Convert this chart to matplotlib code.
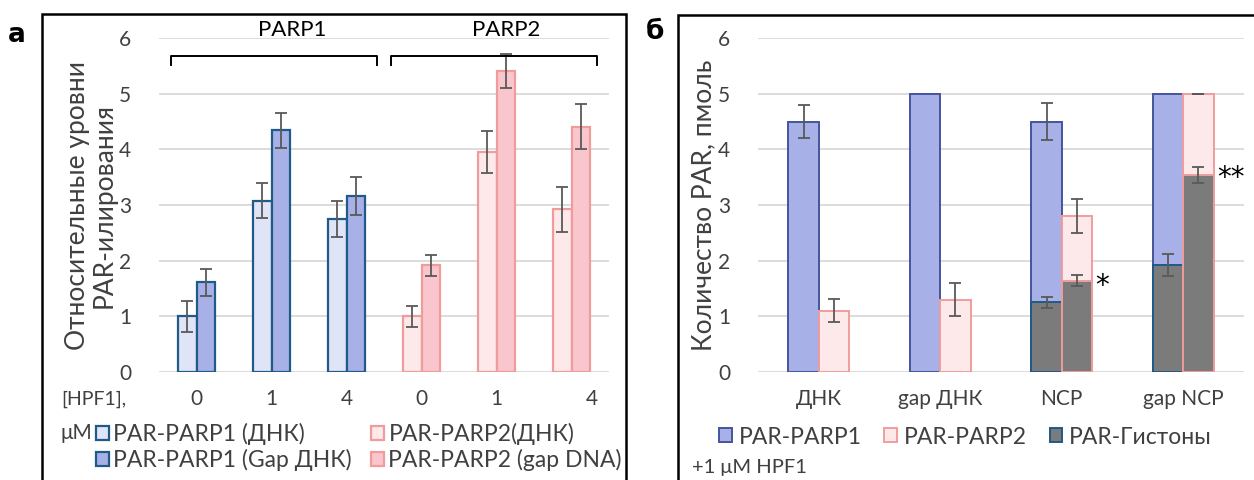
import matplotlib
matplotlib.use("Agg")
import matplotlib.pyplot as plt
from matplotlib.patches import Rectangle
from matplotlib.transforms import ScaledTranslation
import numpy as np

plt.rcParams['font.family'] = ['Lato', 'DejaVu Sans']

# ---- panel a: relative PAR-ylation levels ----
hpf1_labels = ["0", "1", "4", "0", "1", "4"]
parp1_dna = [1.00, 3.08, 2.75]
parp1_dna_err = [0.28, 0.31, 0.33]
parp1_gap = [1.61, 4.34, 3.16]
parp1_gap_err = [0.24, 0.32, 0.34]
parp2_dna = [1.00, 3.95, 2.92]
parp2_dna_err = [0.19, 0.38, 0.40]
parp2_gap = [1.92, 5.41, 4.41]
parp2_gap_err = [0.19, 0.31, 0.41]

# ---- panel b: PAR amount, pmol (+1 uM HPF1) ----
substrates = ["ДНК", "gap ДНК", "NCP", "gap NCP"]
parp1_total = [4.50, 5.00, 4.50, 5.00]
parp1_total_err = [0.29, 0.0, 0.33, 0.0]
parp2_total = [1.10, 1.30, 2.80, 5.00]
parp2_total_err = [0.21, 0.29, 0.30, 0.0]
hist_p1 = [0.0, 0.0, 1.25, 1.92]
hist_p1_err = [0.0, 0.0, 0.10, 0.20]
hist_p2 = [0.0, 0.0, 1.64, 3.54]
hist_p2_err = [0.0, 0.0, 0.10, 0.14]

C_EDGE1 = "#1f5a88"
C_P1L = "#dfe5f6"
C_P1D = "#a7b1e8"
C_EDGE1B = "#45559b"
C_EDGE2 = "#f09c9c"
C_P2L = "#fde8ea"
C_P2D = "#f8c6cc"
C_GRAY = "#7b7b7b"
C_ERR = "#595959"
C_GRID = "#d9d9d9"
C_TXT = "#404040"

FS_TICK = 15
FS_YLAB = 19

W, H = 1254, 480
fig = plt.figure(figsize=(W / 100, H / 100), dpi=100)

def fx(px):
    return px / W

def fy(py):
    return 1 - py / H

# panel frames
fig.add_artist(Rectangle((fx(42), fy(500)), fx(626) - fx(42), fy(14) - fy(500),
                         transform=fig.transFigure, fill=False, lw=1.8, ec="black"))
fig.add_artist(Rectangle((fx(678), fy(500)), fx(1300) - fx(678), fy(15) - fy(500),
                         transform=fig.transFigure, fill=False, lw=1.8, ec="black"))
fig.text(fx(17), fy(35), "а", fontsize=19, fontweight="bold", ha="center", va="center",
         family=["DejaVu Sans"])
fig.text(fx(655), fy(32), "б", fontsize=19, fontweight="bold", ha="center", va="center",
         family=["DejaVu Sans"])

err_kw = dict(ecolor=C_ERR, elinewidth=1.3, capsize=4.5, capthick=1.3)

def style_axes(ax):
    ax.set_ylim(0, 6)
    ax.set_yticks(range(7))
    ax.yaxis.grid(True, color=C_GRID, lw=1.3)
    ax.set_axisbelow(True)
    for s in ax.spines.values():
        s.set_visible(False)
    ax.tick_params(axis="both", length=0, labelsize=FS_TICK, colors=C_TXT)
    ax.tick_params(axis="y", pad=20)
    ax.tick_params(axis="x", pad=12)

# ---------- panel a ----------
axa = fig.add_axes([fx(159), fy(372), fx(609) - fx(159), fy(38) - fy(372)])
style_axes(axa)
axa.set_xlim(-0.5, 5.5)
bw = 0.25
xa = np.arange(6)
x1 = xa[:3]
x2 = xa[3:]
h1 = axa.bar(x1 - bw / 2, parp1_dna, bw, color=C_P1L, edgecolor=C_EDGE1, lw=1.6,
             yerr=parp1_dna_err, error_kw=err_kw, label="PAR-PARP1 (ДНК)")
h2 = axa.bar(x1 + bw / 2, parp1_gap, bw, color=C_P1D, edgecolor=C_EDGE1, lw=1.6,
             yerr=parp1_gap_err, error_kw=err_kw, label="PAR-PARP1 (Gap ДНК)")
h3 = axa.bar(x2 - bw / 2, parp2_dna, bw, color=C_P2L, edgecolor=C_EDGE2, lw=1.6,
             yerr=parp2_dna_err, error_kw=err_kw, label="PAR-PARP2(ДНК)")
h4 = axa.bar(x2 + bw / 2, parp2_gap, bw, color=C_P2D, edgecolor=C_EDGE2, lw=1.6,
             yerr=parp2_gap_err, error_kw=err_kw, label="PAR-PARP2 (gap DNA)")
axa.set_xticks(xa)
axa.set_xticklabels(hpf1_labels)
# the last concentration label sits slightly right of its bar pair
last = axa.get_xticklabels()[-1]
last.set_transform(last.get_transform() + ScaledTranslation(0.2, 0, fig.dpi_scale_trans))
axa.set_ylabel("Относительные уровни\nPAR-илирования", fontsize=FS_YLAB, color=C_TXT,
               linespacing=1.05)
axa.yaxis.set_label_coords(-0.095, 0.5)

# brackets over the two enzyme groups
for (xl, xr, name, xt) in [(-0.34, 2.41, "PARP1", 1.27), (2.59, 5.34, "PARP2", 4.13)]:
    axa.plot([xl, xl, xr, xr], [5.51, 5.67, 5.67, 5.51], color="black", lw=1.4,
             clip_on=False)
    axa.text(xt, 6.15, name, ha="center", va="center", fontsize=16, color="black",
             clip_on=False)

fig.text(fx(61), fy(399), "[HPF1],", fontsize=14, color=C_TXT, va="center", ha="left")
fig.text(fx(61), fy(433), "μM", fontsize=FS_TICK, color=C_TXT, va="center", ha="left")
fig.legend(handles=[h1, h2, h3, h4], loc="center left", ncol=2, frameon=False,
           bbox_to_anchor=(fx(96), fy(447)), fontsize=16.5, labelcolor=C_TXT,
           handlelength=0.55, handleheight=0.55, handletextpad=0.2, columnspacing=0.85,
           labelspacing=0.18, borderaxespad=0, borderpad=0)

# ---------- panel b ----------
axb = fig.add_axes([fx(758), fy(372), fx(1244) - fx(758), fy(38) - fy(372)])
style_axes(axb)
axb.set_xlim(-0.5, 3.5)
xb = np.arange(4)
bw2 = 0.25
b1 = axb.bar(xb - bw2 / 2, parp1_total, bw2, color=C_P1D, edgecolor=C_EDGE1B, lw=1.4,
             label="PAR-PARP1")
b2 = axb.bar(xb + bw2 / 2, parp2_total, bw2, color=C_P2L, edgecolor=C_EDGE2, lw=1.4,
             label="PAR-PARP2")
hist_idx = [i for i, v in enumerate(hist_p1) if v > 0]
hx = xb[hist_idx]
b3 = axb.bar(hx - bw2 / 2, [hist_p1[i] for i in hist_idx], bw2, color=C_GRAY,
             edgecolor=C_EDGE1, lw=1.4, label="PAR-Гистоны")
axb.bar(hx + bw2 / 2, [hist_p2[i] for i in hist_idx], bw2, color=C_GRAY,
        edgecolor=C_EDGE2, lw=1.4)

# error bars (only where a spread was measured)
for xs, vals, errs in [(xb - bw2 / 2, parp1_total, parp1_total_err),
                       (xb + bw2 / 2, parp2_total, parp2_total_err)]:
    for x, v, e in zip(xs, vals, errs):
        if e > 0:
            axb.errorbar(x, v, yerr=e, fmt="none", **err_kw)
axb.errorbar(xb[3] + bw2 / 2, parp2_total[3], yerr=0.0, fmt="none", **err_kw)
axb.errorbar(hx - bw2 / 2, [hist_p1[i] for i in hist_idx],
             yerr=[hist_p1_err[i] for i in hist_idx], fmt="none", **err_kw)
axb.errorbar(hx + bw2 / 2, [hist_p2[i] for i in hist_idx],
             yerr=[hist_p2_err[i] for i in hist_idx], fmt="none", **err_kw)

axb.text(2.33, 1.55, "*", fontsize=20, ha="center", va="center", color="black",
         family=["DejaVu Sans"])
axb.text(3.39, 3.49, "**", fontsize=20, ha="center", va="center", color="black",
         family=["DejaVu Sans"])

axb.set_xticks(xb)
axb.set_xticklabels(substrates)
axb.set_ylabel("Количество PAR, пмоль", fontsize=FS_YLAB, color=C_TXT)
axb.yaxis.set_label_coords(-0.086, 0.5)

fig.legend(handles=[b1, b2, b3], loc="center left", ncol=3, frameon=False,
           bbox_to_anchor=(fx(719), fy(437)), fontsize=16.5, labelcolor=C_TXT,
           handlelength=0.55, handleheight=0.55, handletextpad=0.3, columnspacing=1.0,
           borderaxespad=0, borderpad=0)
fig.text(fx(692), fy(468), "+1 μM HPF1", fontsize=14.5, color=C_TXT, va="center", ha="left")

fig.savefig("out.png", dpi=100)
